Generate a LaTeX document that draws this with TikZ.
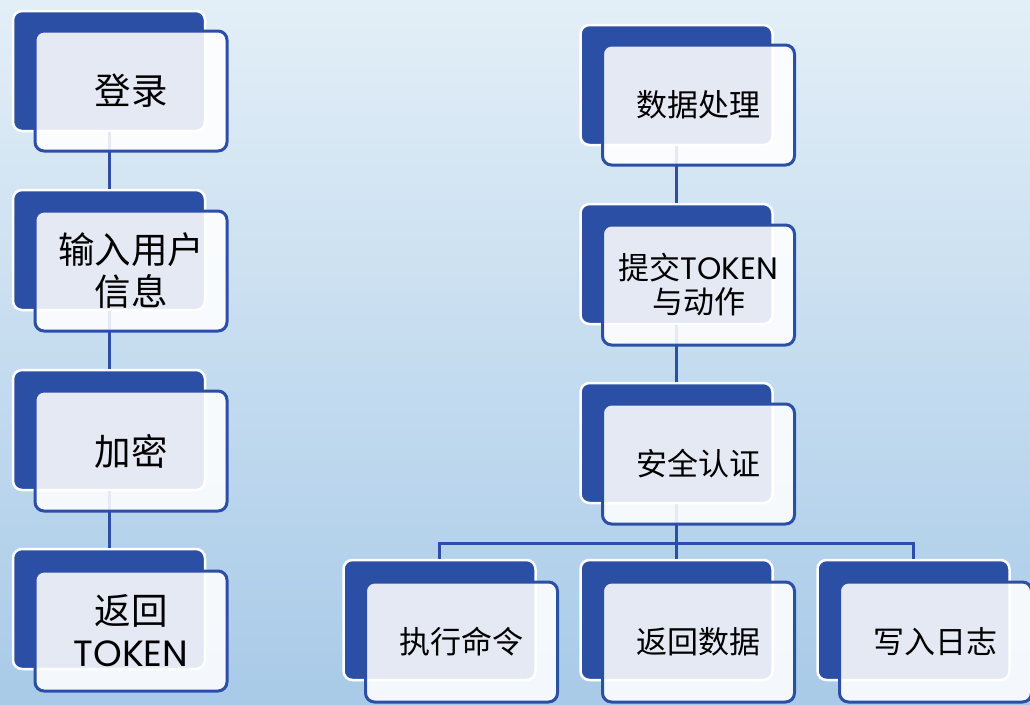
\documentclass[tikz,border=0pt]{standalone}
\usepackage{fontspec}
\setmainfont{Noto Sans CJK SC}
\newfontfamily\tokfont{Poppins}
\usepackage{tikz}
\usetikzlibrary{positioning}
\definecolor{boxblue}{HTML}{2A4FA4}
\definecolor{bgtop}{HTML}{E3EFF7}
\definecolor{bgbot}{HTML}{A8CAE8}

\begin{document}
\begin{tikzpicture}[x=1pt,y=-1pt,
  backbox/.style={rectangle,rounded corners=9pt,minimum width=192pt,minimum height=120pt,fill=boxblue,draw=white,line width=2.5pt},
  frontbox/.style={rectangle,rounded corners=9pt,minimum width=192pt,minimum height=120pt,fill=white,fill opacity=.88,text opacity=1,draw=boxblue,line width=3pt,align=center},
  bigtext/.style={font=\fontsize{36.5}{42}\selectfont},
  smalltext/.style={font=\fontsize{31}{34}\selectfont},
  link/.style={draw=boxblue,line width=3pt}]
    \useasboundingbox (0,0) rectangle (1030,704);
    \clip (0,0) rectangle (1030,704);
    \shade[top color=bgtop,bottom color=bgbot] (0,0) rectangle (1030,704);

    % back boxes
    \node[backbox] (l1) at (109,71) {};
    \node[backbox] (l2) at (109,250) {};
    \node[backbox] (l3) at (109,430) {};
    \node[backbox] (l4) at (109,609) {};
    \node[backbox] (r1) at (676.5,85) {};
    \node[backbox] (r2) at (676.5,264) {};
    \node[backbox] (r3) at (676.5,443) {};
    \node[backbox] (c1) at (439.5,620) {};
    \node[backbox] (c2) at (676.5,620) {};
    \node[backbox] (c3) at (913.5,620) {};
    \coordinate (split) at (676.5,543);

  \foreach \from/\to in {l1/l2,l2/l3,l3/l4,r1/r2,r2/r3}
  {
    \draw[link] (\from.south) -- (\to.north);
    }
    \draw[link] (r3.south) -- (split);
  \foreach \to in {c1,c2,c3}
  {
    \draw[link] (split) -| (\to.north);
    }

    % front boxes
    \node[frontbox,bigtext] (l1f) at (131,91) {登录};
    \node[frontbox,bigtext] (l2f) at (131,271) {输入用户\\信息};
    \node[frontbox,bigtext] (l3f) at (131,451) {加密};
    \node[frontbox,bigtext] (l4f) at (131,631) {返回\\{\tokfont TOKEN}};
    \node[frontbox,smalltext] (r1f) at (698.5,105) {数据处理};
    \node[frontbox,smalltext] (r2f) at (698.5,285) {提交{\tokfont TOKEN}\\与动作};
    \node[frontbox,smalltext] (r3f) at (698.5,464) {安全认证};
    \node[frontbox,smalltext] (c1f) at (461.5,642) {执行命令};
    \node[frontbox,smalltext] (c2f) at (698.5,642) {返回数据};
    \node[frontbox,smalltext] (c3f) at (935.5,642) {写入日志};
    \end{tikzpicture}
\end{document}
